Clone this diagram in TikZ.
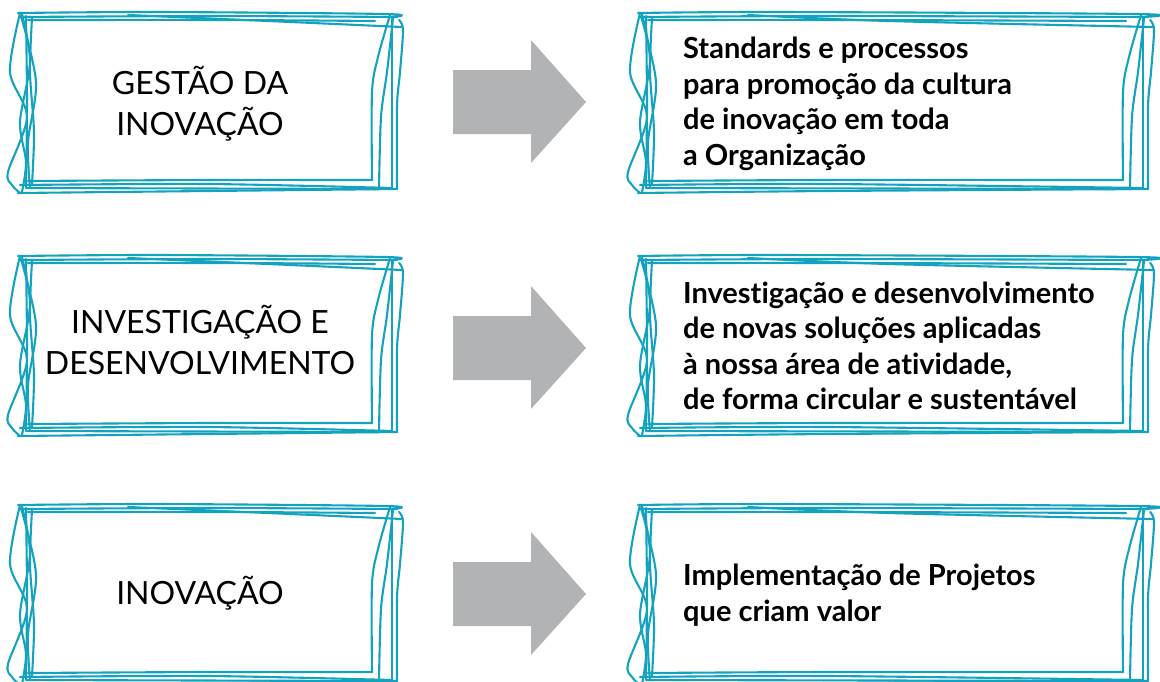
\documentclass[tikz,border=0pt]{standalone}
\usepackage{fontspec}
\setmainfont[Ligatures=NoCommon]{Lato}
\definecolor{skcol}{RGB}{20,163,190}
\definecolor{arrcol}{RGB}{178,179,181}
\tikzset{
  sk/.style={draw=skcol, line width=2.1pt, line cap=round, line join=round},
  lefttext/.style={inner sep=0pt, align=center, font=\fontsize{32}{41}\selectfont},
  righttext/.style={inner sep=0pt, align=left, anchor=west, font=\bfseries\fontsize{29}{35.5}\selectfont},
  blockarrow/.style={fill=arrcol, draw=none}
}
\newcommand{\sketchbox}[3]{%
\begin{scope}[shift={(#1,#2)}]
\pgfmathsetmacro{\W}{#3}
\draw[sk] plot[smooth,tension=0.5] coordinates {(10,1) (150,0) (\W-20,2) (\W-12,5)};
\draw[sk] plot[smooth,tension=0.5] coordinates {(12,5) (200,4) (\W-8,5)};
\draw[sk] plot[smooth,tension=0.5] coordinates {(120,3) (260,9) (\W-3,15)};
\draw[sk] plot[smooth,tension=0.5] coordinates {(20,8) (220,8) (\W-30,9)};
\draw[sk] plot[smooth,tension=0.5] coordinates {(\W-15,3) (\W-27,45) (\W-33,80) (\W-33,168)};
\draw[sk] plot[smooth,tension=0.5] coordinates {(\W-12,6) (\W-18,60) (\W-24,105) (\W-26,177)};
\draw[sk] plot[smooth,tension=0.5] coordinates {(\W-13,5) (\W-13,176)};
\draw[sk] plot[smooth,tension=0.5] coordinates {(\W-6,8) (\W-2,18) (\W-5,60) (\W-8,95) (\W-8,177)};
\draw[sk] plot[smooth,tension=0.5] coordinates {(20,169) (200,168) (\W-33,168)};
\draw[sk] plot[smooth,tension=0.5] coordinates {(12,173) (200,172) (\W-13,176)};
\draw[sk] plot[smooth,tension=0.5] coordinates {(10,181) (200,179) (\W-8,177)};
\draw[sk] plot[smooth,tension=0.5] coordinates {(18,176) (\W-26,177)};
\draw[sk] plot[smooth,tension=0.5] coordinates {(12,1) (2,60) (19,105) (0,160) (4,173) (12,181)};
\draw[sk] plot[smooth,tension=0.5] coordinates {(14,2) (22,50) (12,110) (18,150) (14,180)};
\draw[sk] plot[smooth,tension=0.5] coordinates {(18,4) (19,90) (18,175)};
\draw[sk] plot[smooth,tension=0.5] coordinates {(24,6) (22,60) (26,120) (24,172)};
\draw[sk] plot[smooth,tension=0.5] coordinates {(13,4) (28,70) (20,130) (22,176)};
\end{scope}}
\newcommand{\blockarr}[1]{%
\fill[blockarrow] (453,#1-32) -- (531,#1-32) -- (531,#1-62) -- (586,#1) -- (531,#1+61) -- (531,#1+32) -- (453,#1+32) -- cycle;}
\begin{document}
\begin{tikzpicture}[x=1pt,y=-1pt]
\useasboundingbox (0,0) rectangle (1160,681);
% sketch boxes
\sketchbox{8}{12}{397}
\sketchbox{628}{12}{528}
\sketchbox{8}{255}{397}
\sketchbox{628}{255}{528}
\sketchbox{8}{504}{397}
\sketchbox{628}{504}{528}
% arrows
\blockarr{102}
\blockarr{348}
\blockarr{594}
% texts
\node[lefttext] (l1) at (200,104) {GESTÃO DA\\INOVAÇÃO};
\node[lefttext] (l2) at (200,340) {INVESTIGAÇÃO E\\DESENVOLVIMENTO};
\node[lefttext] (l3) at (200,593) {INOVAÇÃO};
\node[righttext] (r1) at (683,104) {Standards e processos\\para promoção da cultura\\de inovação em toda\\a Organização};
\node[righttext] (r2) at (683,346) {Investigação e desenvolvimento\\de novas soluções aplicadas\\à nossa área de atividade,\\de forma circular e sustentável};
\node[righttext] (r3) at (683,595) {Implementação de Projetos\\que criam valor};
\end{tikzpicture}
\end{document}
